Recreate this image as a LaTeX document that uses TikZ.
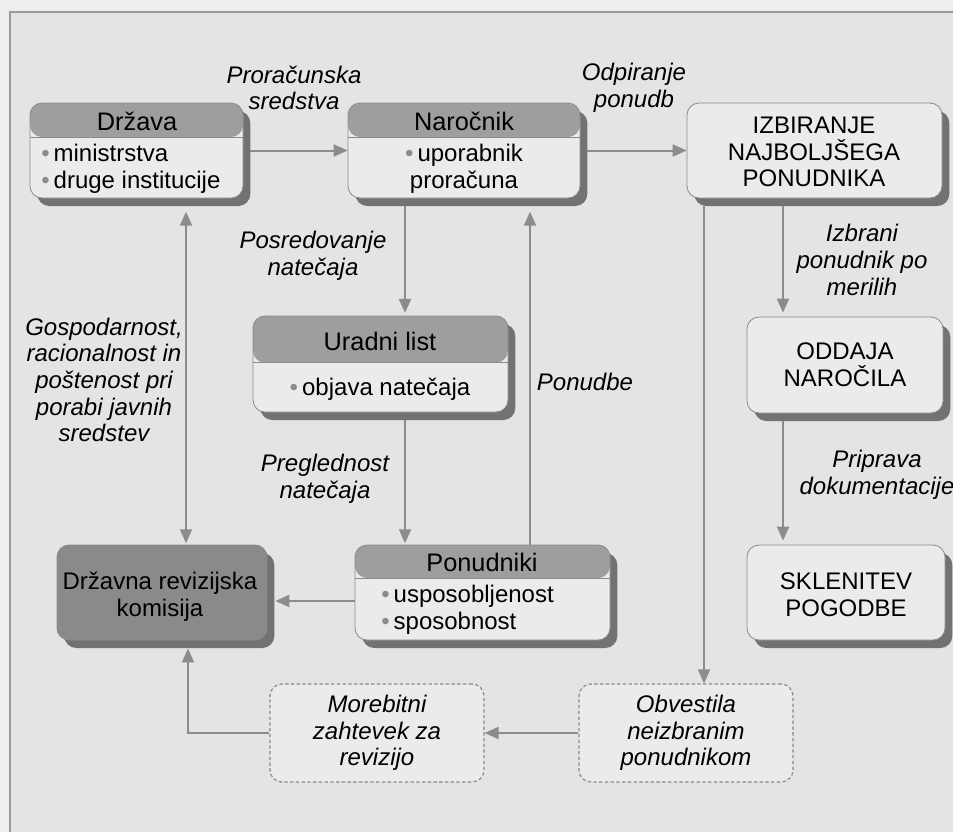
\documentclass[tikz,border=0pt]{standalone}
\usepackage{fontspec}
\setmainfont{Liberation Sans}
\usetikzlibrary{arrows.meta,shadows,fit}
\definecolor{bgcol}{HTML}{E4E4E4}
\definecolor{outcol}{HTML}{EEEEEE}
\definecolor{bodycol}{HTML}{EBEBEB}
\definecolor{hdrcol}{HTML}{9E9E9E}
\definecolor{darkcol}{HTML}{8A8A8A}
\definecolor{shcol}{HTML}{727272}
\definecolor{bdcol}{HTML}{8A8A8A}
\definecolor{arrcol}{HTML}{8C8C8C}
\definecolor{framecol}{HTML}{9A9A9A}
\newcommand{\bul}{\textcolor{arrcol}{\textbullet}\,}
\begin{document}
\begin{tikzpicture}[x=0.75pt,y=-0.75pt,
 base/.style={inner sep=0pt, rounded corners=9pt, draw=bdcol, line width=0.6pt,
   drop shadow={shadow xshift=5.5pt, shadow yshift=-6pt, fill=shcol, opacity=1}},
 plainbox/.style={base, fill=bodycol},
 hdrbox/.style={base, fill=bodycol, path picture={
   \fill[hdrcol] (path picture bounding box.north west) rectangle ([yshift=-#1]path picture bounding box.north east);
   \draw[bdcol, line width=0.6pt] ([yshift=-#1]path picture bounding box.north west) -- ([yshift=-#1]path picture bounding box.north east);}},
 darkbox/.style={base, fill=darkcol},
 dashbox/.style={inner sep=0pt, rounded corners=9pt, draw=bdcol, dash pattern=on 2.5pt off 1.8pt, line width=0.9pt, fill=bodycol},
 txt/.style={font=\fontsize{18}{20}\selectfont, align=center, inner sep=0pt},
 hdrtxt/.style={txt, font=\fontsize{19}{21}\selectfont},
 lbl/.style={txt, font=\fontsize{18}{20}\selectfont\itshape},
 arr/.style={draw=arrcol, line width=1.5pt, -{Triangle[length=10.5pt,width=9pt]}},
 arrboth/.style={draw=arrcol, line width=1.5pt, {Triangle[length=10.5pt,width=9pt]}-{Triangle[length=10.5pt,width=9pt]}},
]
\useasboundingbox (0,0) rectangle (953,832);
% background and frame
\fill[outcol] (0,0) rectangle (953,832);
\fill[bgcol] (10,12) rectangle (953,832);
\draw[framecol, line width=2.2pt] (10,832) -- (10,12) -- (953,12);

% boxes
\node[hdrbox=25.5pt, fit={(30,103) (243,198)}] (d) {};
\node[hdrbox=25.5pt, fit={(348,103) (580,198)}] (n) {};
\node[plainbox, fit={(687,103) (942,198)}] (iz) {};
\node[hdrbox=35pt, fit={(253,316) (508,412)}] (ul) {};
\node[plainbox, fit={(747,317) (943,413)}] (od) {};
\node[hdrbox=24.75pt, fit={(355,545) (610,640)}] (pn) {};
\node[darkbox, fit={(57,545) (267,640)}] (dr) {};
\node[plainbox, fit={(747,545) (945,640)}] (sk) {};
\node[dashbox, fit={(270,684) (484,782)}] (mo) {};
\node[dashbox, fit={(579,684) (793,782)}] (ob) {};

% box texts
\node[hdrtxt] (d-h) at (137,121) {Država};
\node[txt, align=left, anchor=west] (d-b) at (41,169) {\bul ministrstva\\\bul druge institucije};
\node[hdrtxt] (n-h) at (464,121) {Naročnik};
\node[txt] (n-b) at (464,169) {\bul uporabnik\\proračuna};
\node[txt] (iz-t) at (814,152) {IZBIRANJE\\NAJBOLJŠEGA\\PONUDNIKA};
\node[hdrtxt] (ul-h) at (380,341) {Uradni list};
\node[txt] (ul-b) at (380,389) {\bul objava natečaja};
\node[txt] (od-t) at (845,365) {ODDAJA\\NAROČILA};
\node[hdrtxt] (pn-h) at (482,562) {Ponudniki};
\node[txt, align=left, anchor=west] (pn-b) at (381,610) {\bul usposobljenost\\\bul sposobnost};
\node[txt] (dr-t) at (160,597) {Državna revizijska\\komisija};
\node[txt] (sk-t) at (846,595) {SKLENITEV\\POGODBE};
\node[lbl] (mo-t) at (377,733) {Morebitni\\zahtevek za\\revizijo};
\node[lbl] (ob-t) at (686,733) {Obvestila\\neizbranim\\ponudnikom};

% connector labels
\node[lbl] (l1) at (294,88) {Proračunska\\sredstva};
\node[lbl] (l2) at (634,88) {Odpiranje\\ponudb};
\node[lbl] (l3) at (313,256) {Posredovanje\\natečaja};
\node[lbl] (l4) at (325,479) {Preglednost\\natečaja};
\node[lbl] (l5) at (104,380) {Gospodarnost,\\racionalnost in\\poštenost pri\\porabi javnih\\sredstev};
\node[lbl] (l6) at (585,382) {Ponudbe};
\node[lbl] (l7) at (862,260) {Izbrani\\ponudnik po\\merilih};
\node[lbl] (l8) at (877,475) {Priprava\\dokumentacije};

% helper coordinates
\coordinate (x186) at (186,0);
\coordinate (x188) at (188,0);
\coordinate (x405) at (405,0);
\coordinate (x530) at (530,0);
\coordinate (x704) at (704,0);
\coordinate (x783) at (783,0);
\coordinate (y601) at (0,601);

% connectors
\draw[arr, shorten <=5pt] (d.east) -- (n.west);
\draw[arr, shorten <=5pt] (n.east) -- (iz.west);
\draw[arr, shorten <=6pt, shorten >=2pt] (x405 |- n.south) -- (x405 |- ul.north);
\draw[arr, shorten <=6pt, shorten >=1pt] (x405 |- ul.south) -- (x405 |- pn.north);
\draw[arr, shorten >=10pt] (x530 |- pn.north) -- (x530 |- n.south);
\draw[arr, shorten >=6pt] (pn.west |- y601) -- (dr.east |- y601);
\draw[arrboth, shorten <=10pt, shorten >=1pt] (x186 |- d.south) -- (x186 |- dr.north);
\draw[arr, shorten <=6pt, shorten >=3pt] (x783 |- iz.south) -- (x783 |- od.north);
\draw[arr, shorten <=6pt, shorten >=3pt] (x783 |- od.south) -- (x783 |- sk.north);
\draw[arr, shorten <=6pt] (x704 |- iz.south) -- (x704 |- ob.north);
\draw[arr] (ob.west) -- (mo.east);
\draw[arr, shorten >=6pt] (mo.west) -| (x188 |- dr.south);
\end{tikzpicture}
\end{document}
